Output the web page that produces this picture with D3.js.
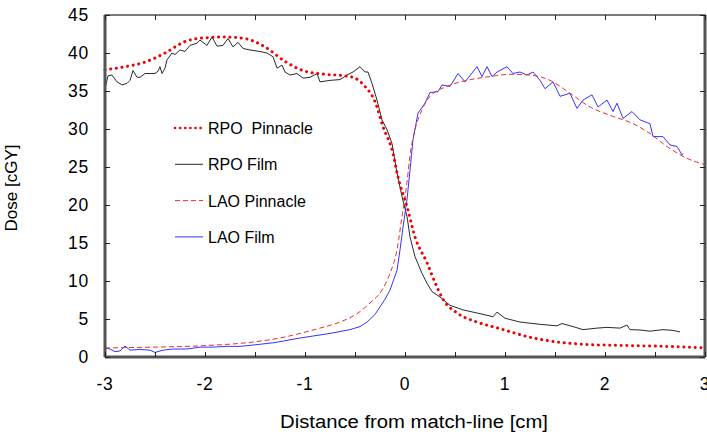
<!DOCTYPE html>
<html>
<head>
<meta charset="utf-8">
<script src="https://cdn.jsdelivr.net/npm/d3@7"></script>
<style>
  body { margin: 0; background: #fff; }
  text { font-family: "Liberation Sans", Arial, sans-serif; fill: #000; white-space: pre; }
</style>
</head>
<body>
<script>
const w = 707;
const h = 435;

// [distance cm, dose cGy]
const rpoPinnacle = [
  [-3, 37.8], [-2.8, 38.2], [-2.6, 38.8], [-2.4, 40.0], [-2.2, 41.5], [-2.0, 42.0],
  [-1.8, 42.1], [-1.6, 41.9], [-1.4, 40.8], [-1.2, 38.9], [-1.0, 37.6], [-0.8, 37.2],
  [-0.6, 37.0], [-0.5, 36.7], [-0.4, 35.6], [-0.3, 33.6], [-0.22, 30.3], [-0.12, 26.8],
  [-0.07, 23.7], [0.02, 19.8], [0.1, 15.8], [0.22, 12.4], [0.3, 9.8], [0.38, 7.6],
  [0.52, 5.8], [0.72, 4.6], [0.93, 3.8], [1.25, 2.6], [1.75, 1.7], [2.25, 1.5],
  [2.6, 1.4], [3.0, 1.2]
];
const rpoFilm = [
  [-3.0, 35.3], [-2.97, 37.0], [-2.93, 37.1], [-2.88, 36.2], [-2.83, 35.8], [-2.78, 36.0],
  [-2.75, 36.4], [-2.72, 37.7], [-2.68, 36.8], [-2.65, 36.8], [-2.6, 37.3], [-2.57, 37.3],
  [-2.5, 37.3], [-2.47, 37.6], [-2.45, 38.2], [-2.43, 37.3], [-2.4, 38.0], [-2.38, 39.1],
  [-2.33, 40.0], [-2.3, 39.8], [-2.25, 40.4], [-2.2, 40.2], [-2.15, 41.0], [-2.08, 41.3],
  [-2.05, 41.7], [-1.98, 41.0], [-1.93, 42.1], [-1.88, 40.9], [-1.82, 41.0], [-1.77, 41.9],
  [-1.72, 40.8], [-1.67, 41.4], [-1.62, 40.6], [-1.55, 40.4], [-1.45, 40.2], [-1.38, 40.0],
  [-1.32, 39.5], [-1.28, 38.0], [-1.23, 38.4], [-1.2, 37.5], [-1.15, 37.1], [-1.08, 37.3],
  [-1.02, 36.7], [-0.95, 36.8], [-0.88, 37.3], [-0.85, 36.2], [-0.75, 36.4], [-0.65, 36.5],
  [-0.58, 37.1], [-0.52, 37.5], [-0.48, 37.9], [-0.45, 38.2], [-0.4, 37.5], [-0.37, 37.5],
  [-0.33, 36.0], [-0.28, 33.8], [-0.23, 31.2], [-0.18, 29.9], [-0.13, 28.1], [-0.08, 24.2],
  [-0.03, 21.1], [0.02, 18.5], [0.05, 15.8], [0.1, 13.2], [0.17, 11.0], [0.22, 9.7],
  [0.27, 8.6], [0.35, 7.9], [0.45, 6.8], [0.58, 6.2], [0.75, 5.7], [0.88, 5.3],
  [0.92, 5.9], [1.0, 5.1], [1.15, 4.6], [1.35, 4.3], [1.52, 4.1], [1.57, 4.4],
  [1.68, 4.0], [1.78, 3.6], [1.92, 3.8], [2.02, 3.9], [2.15, 3.8], [2.22, 4.2],
  [2.25, 3.6], [2.35, 3.55], [2.45, 3.4], [2.58, 3.6], [2.68, 3.5], [2.75, 3.3]
];
const laoPinnacle = [
  [-3, 1.2], [-2.5, 1.3], [-2, 1.5], [-1.5, 2.0], [-1.25, 2.5], [-1.05, 3.1],
  [-0.85, 3.8], [-0.65, 4.6], [-0.48, 5.7], [-0.35, 7.1], [-0.23, 8.8], [-0.15, 11.0],
  [-0.08, 14.1], [-0.03, 18.5], [0.02, 23.0], [0.05, 26.5], [0.1, 29.9], [0.17, 32.5],
  [0.25, 34.3], [0.42, 35.6], [0.62, 36.4], [0.85, 36.9], [1.05, 37.2], [1.25, 37.1],
  [1.45, 36.4], [1.65, 34.7], [1.85, 32.9], [2.05, 31.8], [2.28, 30.7], [2.45, 29.4],
  [2.62, 27.7], [2.78, 26.4], [3, 25.3]
];
const laoFilm = [
  [-3, 1.2], [-2.95, 1.05], [-2.9, 0.7], [-2.85, 0.8], [-2.8, 1.45], [-2.75, 0.9],
  [-2.65, 1.0], [-2.55, 0.9], [-2.5, 0.6], [-2.42, 0.9], [-2.32, 1.05], [-2.18, 1.05],
  [-2.05, 1.3], [-1.92, 1.3], [-1.78, 1.4], [-1.65, 1.4], [-1.5, 1.6], [-1.3, 1.9],
  [-1.05, 2.5], [-0.9, 2.8], [-0.75, 3.1], [-0.55, 3.6], [-0.45, 4.0], [-0.38, 4.6],
  [-0.3, 5.6], [-0.25, 6.6], [-0.2, 7.6], [-0.15, 8.8], [-0.08, 11.4], [-0.05, 14.1],
  [-0.02, 17.1], [0.02, 20.7], [0.05, 24.6], [0.08, 28.6], [0.13, 32.1], [0.2, 33.4],
  [0.25, 34.8], [0.33, 34.9], [0.37, 35.8], [0.45, 35.6], [0.53, 37.3], [0.6, 36.2],
  [0.72, 38.2], [0.77, 36.9], [0.82, 38.2], [0.87, 36.9], [0.92, 37.5], [1.02, 38.2],
  [1.08, 37.3], [1.15, 37.5], [1.22, 37.1], [1.28, 37.5], [1.35, 36.4], [1.4, 35.3],
  [1.48, 36.2], [1.55, 34.3], [1.65, 34.7], [1.72, 32.7], [1.78, 33.8], [1.87, 34.5],
  [1.93, 32.9], [2.02, 33.8], [2.08, 32.3], [2.12, 33.4], [2.18, 31.4], [2.27, 32.3],
  [2.35, 31.2], [2.45, 30.7], [2.48, 29.0], [2.58, 29.0], [2.65, 27.9], [2.72, 27.7],
  [2.77, 26.6], [2.78, 26.8]
];

const xTicks = [-3, -2, -1, 0, 1, 2, 3];
const xMinorTicks = d3.range(-3, 3.01, 0.5);
const yTicks = [0, 5, 10, 15, 20, 25, 30, 35, 40, 45];
const legendLabels = ["RPO  Pinnacle", "RPO Film", "LAO Pinnacle", "LAO Film"];

const m = { t: 15, r: 2, b: 78, l: 105 };
const gw = w - m.l - m.r;
const gh = h - m.t - m.b;

const svg = d3.select("body").append("svg").attr("width", w).attr("height", h);

const x = d3.scaleLinear().domain([-3, 3]).range([0, gw]);
const y = d3.scaleLinear().domain([0, 45]).range([gh, 0]);

const g = svg.append("g").attr("transform", `translate(${m.l}, ${m.t})`);

// series styles, same order as legendLabels
const styles = [
  { data: rpoPinnacle, color: "#f00000", width: 3, dash: "0.1 5.6", cap: "round", curve: d3.curveMonotoneX },
  { data: rpoFilm, color: "#2a2a2a", width: 1, dash: null, cap: "butt", curve: d3.curveLinear },
  { data: laoPinnacle, color: "#e8302a", width: 1, dash: "5 3", cap: "butt", curve: d3.curveMonotoneX },
  { data: laoFilm, color: "#3333ff", width: 1, dash: null, cap: "butt", curve: d3.curveLinear }
];

// lines (film first so the pinnacle curves sit on top)
[1, 3, 2, 0].forEach((i) => {
  const s = styles[i];
  const line = d3.line().x((d) => x(d[0])).y((d) => y(d[1])).curve(s.curve);
  g.append("path")
    .datum(s.data)
    .attr("fill", "none")
    .attr("stroke", s.color)
    .attr("stroke-width", s.width)
    .attr("stroke-dasharray", s.dash)
    .attr("stroke-linecap", s.cap)
    .attr("d", line);
});

// frame
g.append("rect")
  .attr("width", gw).attr("height", gh)
  .attr("fill", "none").attr("stroke", "#222").attr("stroke-width", 1.2);
g.append("line").attr("x1", 0).attr("x2", 0).attr("y1", 0).attr("y2", gh)
  .attr("stroke", "#555").attr("stroke-width", 3);
g.append("line").attr("x1", gw).attr("x2", gw).attr("y1", 0).attr("y2", gh)
  .attr("stroke", "#555").attr("stroke-width", 3);
g.append("line").attr("x1", 0).attr("x2", gw).attr("y1", gh).attr("y2", gh)
  .attr("stroke", "#555").attr("stroke-width", 3);

// axes, ticks pointing inward
const tick = 5;
g.append("g")
  .attr("transform", `translate(0, ${gh})`)
  .call(d3.axisBottom(x).tickValues(xMinorTicks).tickSize(-tick).tickFormat(""))
  .call((a) => a.select(".domain").remove());
g.append("g")
  .call(d3.axisTop(x).tickValues(xMinorTicks).tickSize(-tick).tickFormat(""))
  .call((a) => a.select(".domain").remove());
g.append("g")
  .call(d3.axisLeft(y).tickValues(yTicks).tickSize(-tick).tickFormat(""))
  .call((a) => a.select(".domain").remove());
g.append("g")
  .attr("transform", `translate(${gw}, 0)`)
  .call(d3.axisRight(y).tickValues(yTicks).tickSize(-tick).tickFormat(""))
  .call((a) => a.select(".domain").remove());
g.selectAll(".tick line").attr("stroke", "#222");

// tick labels
g.selectAll(".ylab")
  .data(yTicks)
  .enter()
  .append("text")
  .attr("x", -16)
  .attr("y", (d) => y(d) + 6)
  .attr("text-anchor", "end")
  .attr("font-size", 17.5)
  .attr("letter-spacing", 0.8)
  .text((d) => d);
g.selectAll(".xlab")
  .data(xTicks)
  .enter()
  .append("text")
  .attr("x", (d) => x(d))
  .attr("y", gh + 33)
  .attr("text-anchor", "middle")
  .attr("font-size", 17.5)
  .attr("letter-spacing", 0.8)
  .text((d) => d);

// axis titles
svg.append("text")
  .attr("x", 280)
  .attr("y", 428)
  .attr("font-size", 18)
  .attr("textLength", 268)
  .attr("lengthAdjust", "spacingAndGlyphs")
  .text("Distance from match-line [cm]");
svg.append("text")
  .attr("transform", "rotate(-90)")
  .attr("x", -188)
  .attr("y", 17)
  .attr("text-anchor", "middle")
  .attr("font-size", 17)
  .text("Dose [cGY]");

// legend
const legend = svg.append("g").attr("transform", "translate(175, 128)");
styles.forEach((s, i) => {
  const row = legend.append("g").attr("transform", `translate(0, ${i * 36.3})`);
  row.append("line")
    .attr("x1", 0).attr("x2", 28).attr("y1", 0).attr("y2", 0)
    .attr("stroke", s.color)
    .attr("stroke-width", i === 0 ? 2.6 : 1)
    .attr("stroke-dasharray", i === 0 ? "0.1 5" : s.dash)
    .attr("stroke-linecap", s.cap);
  row.append("text")
    .attr("x", 33)
    .attr("y", 6)
    .attr("font-size", 16)
    .text(legendLabels[i]);
});
</script>
</body>
</html>
